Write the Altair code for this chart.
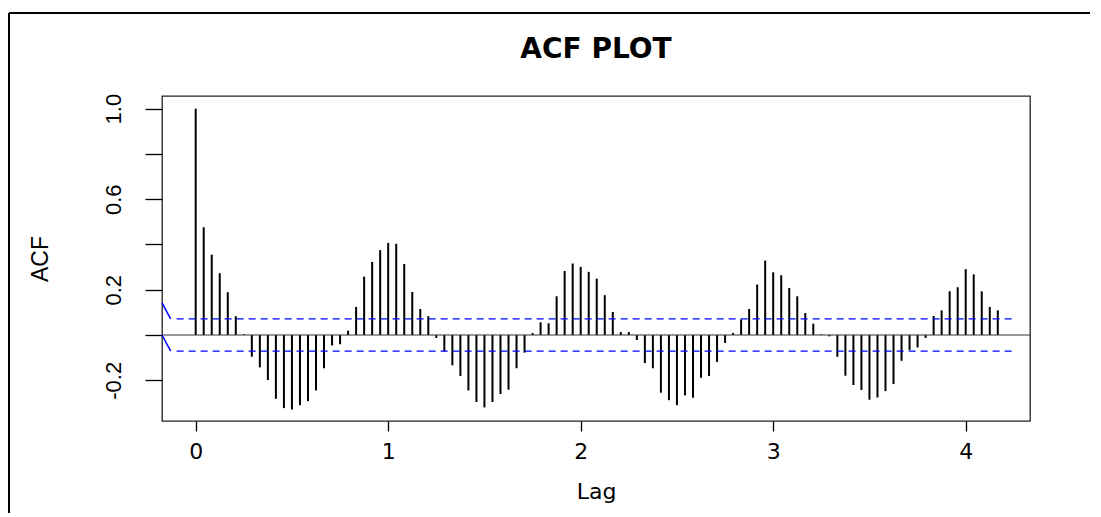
import altair as alt
import pandas as pd

# ---- data (lag step 1/24, lags 0..100) ----
acf_values = [
    1.000, 0.476, 0.355, 0.273, 0.189, 0.083, 0.003, -0.096, -0.143, -0.199,
    -0.282, -0.323, -0.329, -0.310, -0.292, -0.245, -0.147, -0.046, -0.041, 0.019,
    0.124, 0.258, 0.323, 0.375, 0.407, 0.403, 0.314, 0.190, 0.115, 0.083,
    -0.013, -0.072, -0.134, -0.181, -0.245, -0.296, -0.320, -0.296, -0.261, -0.242,
    -0.147, -0.078, 0.009, 0.056, 0.052, 0.171, 0.283, 0.316, 0.301, 0.279,
    0.249, 0.176, 0.102, 0.013, 0.013, -0.022, -0.124, -0.147, -0.255, -0.288,
    -0.310, -0.267, -0.277, -0.189, -0.181, -0.119, -0.035, 0.009, 0.069, 0.115,
    0.223, 0.329, 0.277, 0.264, 0.208, 0.171, 0.097, 0.050, 0.003, -0.006,
    -0.096, -0.180, -0.221, -0.243, -0.286, -0.276, -0.248, -0.217, -0.114, -0.066,
    -0.055, -0.013, 0.084, 0.109, 0.193, 0.211, 0.291, 0.268, 0.193, 0.124,
    0.109,
]
frequency = 24
lags = [k / frequency for k in range(len(acf_values))]

ci_level = 0.071
ci_x_start = -0.099
ci_x_end = 4.254

x_ticks = [0, 1, 2, 3, 4]
y_ticks = [-0.2, 0.0, 0.2, 0.4, 0.6, 0.8, 1.0]
y_tick_labels = {-0.2: "-0.2", 0.2: "0.2", 0.6: "0.6", 1.0: "1.0"}

x_domain = [-0.175, 4.334]
y_domain = [-0.380, 1.056]

title_text = "ACF PLOT"
x_title = "Lag"
y_title = "ACF"

W, H = 868, 325

df = pd.DataFrame({"lag": lags, "acf": acf_values, "zero": [0.0] * len(lags)})

parts = []
for v, lab in y_tick_labels.items():
    parts.append(f"round(datum.value*10) == {round(v*10)} ? '{lab}' : ")
y_label_expr = "".join(parts) + "''"

xscale = alt.Scale(domain=x_domain, nice=False, zero=False)
yscale = alt.Scale(domain=y_domain, nice=False, zero=False)

x_axis = alt.Axis(values=x_ticks, format="d", title=x_title, grid=False, domain=False,
                  tickSize=10, tickColor="black", tickWidth=1.3,
                  labelFont="DejaVu Sans", labelFontSize=22, labelColor="black",
                  labelPadding=10, labelFlush=False,
                  titleFont="DejaVu Sans", titleFontSize=22, titleFontWeight="normal",
                  titleColor="black", titleY=77, titleBaseline="alphabetic")
y_axis = alt.Axis(values=y_ticks, labelExpr=y_label_expr, title=y_title, grid=False,
                  domain=False, tickSize=17, tickColor="black", tickWidth=1.3,
                  labelFont="Liberation Sans", labelFontSize=22, labelColor="black",
                  labelAngle=270, labelAlign="center", labelBaseline="alphabetic",
                  labelPadding=25, labelFlush=False,
                  titleFont="Liberation Sans", titleFontSize=23, titleFontWeight="normal",
                  titleColor="black", titleAngle=270, titleAlign="center",
                  titleBaseline="alphabetic", titleX=-115, titleY=H / 2)

spikes = alt.Chart(df).mark_rule(color="black", strokeWidth=2, strokeCap="butt").encode(
    x=alt.X("lag:Q", scale=xscale, axis=x_axis),
    y=alt.Y("zero:Q", scale=yscale, axis=y_axis),
    y2="acf:Q",
)

zero_line = alt.Chart(pd.DataFrame({"y": [0.0]})).mark_rule(color="#333333", strokeWidth=1.2).encode(
    y=alt.Y("y:Q", scale=yscale, axis=y_axis)
)

ci_df = pd.DataFrame({"x": [ci_x_start, ci_x_start], "x2": [ci_x_end, ci_x_end],
                      "y": [ci_level, -ci_level]})
ci_lines = alt.Chart(ci_df).mark_rule(color="#0000FF", strokeWidth=1.3, strokeDash=[7, 5]).encode(
    x=alt.X("x:Q", scale=xscale, axis=x_axis), x2="x2:Q",
    y=alt.Y("y:Q", scale=yscale, axis=y_axis),
)

# small solid blue diagonal artefacts at the left edge of the reference
diag_df = pd.DataFrame({"x": [x_domain[0], x_domain[0]], "x2": [-0.13, -0.13],
                        "y": [2 * ci_level, 0.0], "y2": [ci_level, -ci_level]})
diags = alt.Chart(diag_df).mark_rule(color="#0000FF", strokeWidth=1.5).encode(
    x=alt.X("x:Q", scale=xscale, axis=x_axis), x2="x2:Q",
    y=alt.Y("y:Q", scale=yscale, axis=y_axis), y2="y2:Q",
)

one = pd.DataFrame({"a": [0]})
border_left = alt.Chart(one).mark_rule(color="black", strokeWidth=2).encode(
    x=alt.value(-153), y=alt.value(-83), y2=alt.value(H + 92)
)
border_top = alt.Chart(one).mark_rule(color="black", strokeWidth=2).encode(
    x=alt.value(-153), x2=alt.value(W + 60), y=alt.value(-83)
)

title = alt.Chart(pd.DataFrame({"t": [title_text]})).mark_text(
    font="DejaVu Sans", fontSize=28, fontWeight="bold", color="black",
    align="center", baseline="alphabetic"
).encode(text="t:N", x=alt.value(W / 2), y=alt.value(-38))

chart = alt.layer(spikes, zero_line, ci_lines, diags, border_left, border_top, title).properties(
    width=W, height=H,
    autosize=alt.AutoSizeParams(type="none"),
    padding={"left": 154, "top": 88, "right": 60, "bottom": 92},
    background="white",
).configure_view(stroke="#222222", strokeWidth=1.3)

chart.save("out.html", embed_options={"renderer": "svg", "actions": False})
